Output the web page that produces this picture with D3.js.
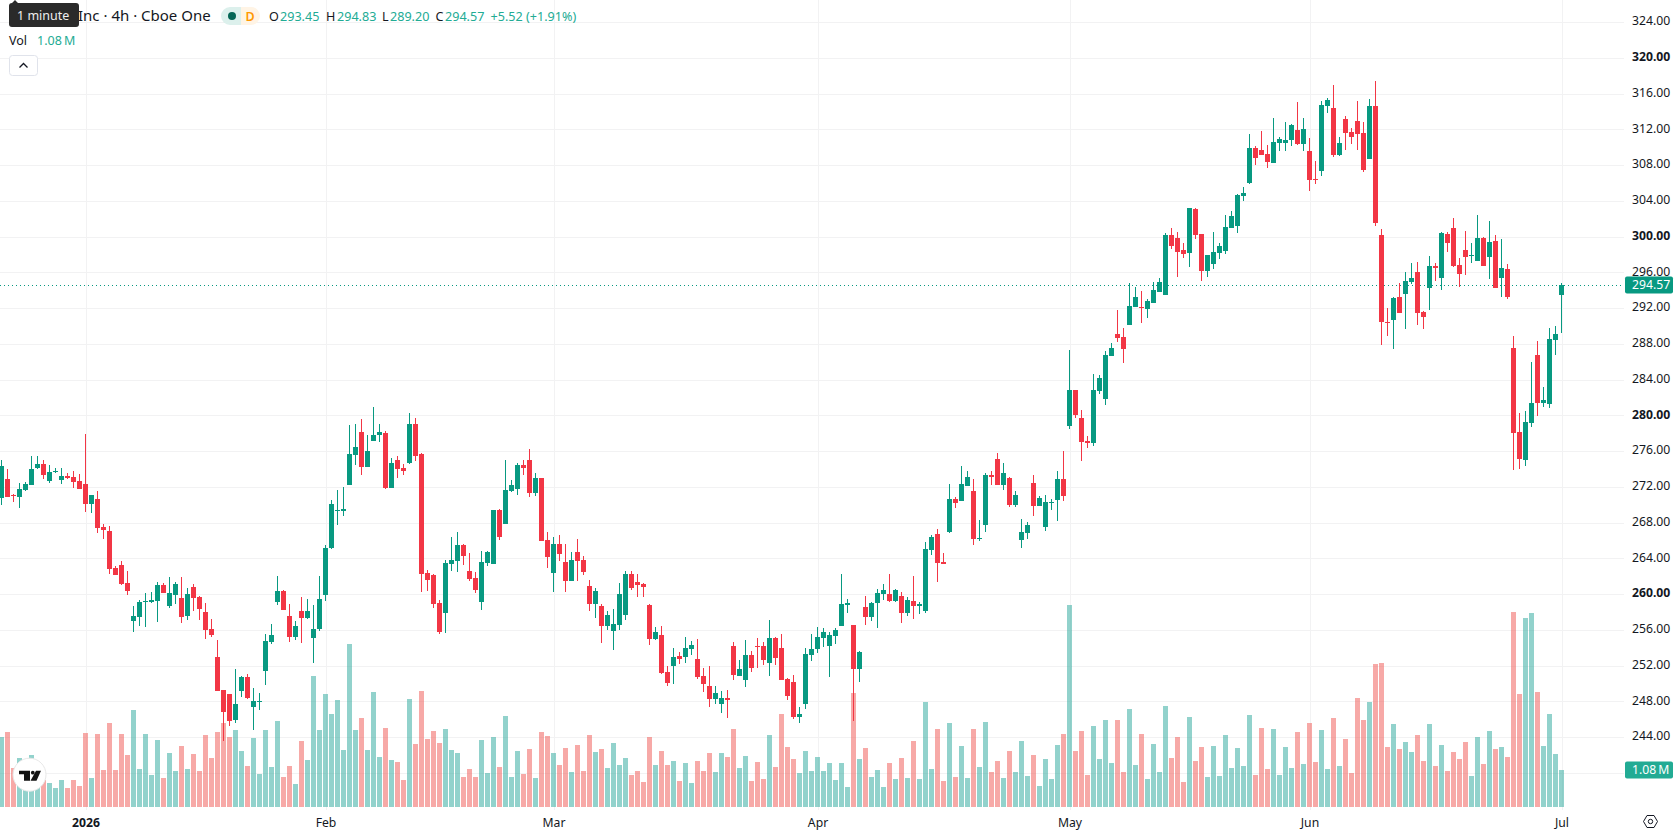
<!DOCTYPE html>
<html>
<head>
<meta charset="utf-8">
<title>4h candlestick chart</title>
<script src="https://cdn.jsdelivr.net/npm/d3@7/dist/d3.min.js"></script>
<style>
html,body{margin:0;padding:0;background:#fff;overflow:hidden}
svg{display:block}
text{font-family:"Noto Sans",sans-serif}
</style>
</head>
<body>
<svg id="chart" width="1678" height="835"></svg>
<script>
// Four-hour bars, oldest first. Prices in USD, volume in millions of shares.
const opens = [
270.78,272.87,271.04,270.89,271.64,272.24,274.10,274.55,272.65,273.65,
272.76,273.21,273.09,272.65,272.31,270.11,270.63,267.50,267.05,262.91,
263.25,261.23,257.02,257.46,259.11,259.11,259.26,261.01,258.70,259.93,
259.55,257.58,260.78,259.67,257.99,256.08,252.95,249.26,248.81,245.90,
249.18,250.71,247.36,247.95,251.42,254.63,259.14,260.34,257.54,255.23,
258.10,257.32,255.08,256.08,259.89,265.15,269.33,269.29,272.20,275.56,
278.13,274.21,277.12,277.79,278.02,271.86,275.00,274.10,274.66,279.02,
275.67,262.35,262.13,258.99,257.88,263.36,263.69,265.48,262.58,261.79,
259.11,263.47,263.36,269.40,267.83,271.53,271.75,274.44,275.00,271.30,
272.98,266.04,262.35,265.60,263.59,261.46,264.71,263.81,260.90,258.89,
258.67,256.43,255.87,256.54,257.66,262.25,261.35,261.13,258.78,254.97,
255.42,251.28,251.95,253.07,252.96,253.85,252.73,250.83,249.71,248.26,
247.70,248.37,254.19,250.83,250.38,253.18,254.19,254.19,252.29,255.08,
253.97,250.50,250.16,246.24,247.70,253.18,253.85,255.08,254.19,255.30,
256.43,258.78,256.54,251.62,258.55,257.43,259.00,260.00,260.00,259.22,
259.78,257.88,259.22,258.66,258.10,264.93,266.72,263.59,266.94,270.63,
270.41,272.09,271.53,266.16,267.73,273.32,275.11,272.20,272.99,269.96,
266.05,266.83,272.42,269.85,267.50,270.19,270.52,272.88,278.80,282.83,
279.70,277.12,276.90,282.72,281.82,286.64,289.10,288.76,290.10,292.12,
292.12,291.89,292.56,293.79,293.46,300.17,299.84,298.49,298.16,303.08,
300.28,296.14,296.92,298.16,298.38,300.96,301.18,304.54,305.99,309.91,
309.68,309.24,308.23,310.47,310.47,310.80,311.92,310.35,309.57,306.44,
307.33,314.61,314.38,309.12,313.15,311.70,312.93,311.58,308.68,314.61,
300.17,290.44,290.66,293.24,293.57,294.92,296.03,291.56,294.24,296.71,
295.36,300.29,300.96,296.82,298.50,297.82,297.27,299.84,297.71,299.50,
295.36,296.37,287.53,278.13,275.00,279.14,286.75,281.38,281.26,288.42,293.45];

const highs = [
275.00,273.99,271.23,272.42,272.53,275.44,275.44,275.00,274.44,274.10,
274.10,273.54,273.77,273.43,277.91,271.08,271.53,267.83,267.61,263.13,
263.69,262.58,258.66,259.33,260.11,260.23,261.34,261.23,261.90,261.34,
261.90,260.67,261.12,259.78,258.99,257.20,254.85,249.26,248.81,251.61,
250.83,251.05,249.48,248.92,255.53,256.64,262.02,260.45,258.88,256.98,
259.67,259.44,258.77,262.02,265.48,270.52,271.64,271.97,278.91,279.02,
279.58,277.79,280.93,279.02,278.24,275.22,275.44,274.55,280.26,279.70,
275.78,262.69,262.24,259.33,263.81,266.38,266.94,265.60,264.59,262.46,
264.81,264.81,269.40,269.51,275.00,272.76,274.66,275.00,276.23,273.54,
272.98,266.94,266.38,266.60,265.60,264.71,266.16,264.26,261.57,260.68,
258.89,258.11,258.33,261.24,262.58,262.58,262.25,261.24,258.89,256.32,
256.43,251.95,253.97,253.52,255.20,254.75,254.97,251.73,251.95,249.71,
249.15,249.27,254.64,252.62,254.86,253.63,255.08,254.64,257.10,255.20,
255.53,250.61,250.94,247.36,253.97,255.53,256.32,256.20,255.76,256.20,
262.25,259.45,256.54,253.63,259.78,259.11,260.57,261.13,262.25,260.57,
260.22,259.67,262.02,259.11,265.82,266.61,267.28,264.59,272.31,270.86,
274.33,273.77,272.88,268.29,273.55,273.77,275.78,274.66,273.10,271.53,
268.40,268.06,273.32,270.97,271.08,270.63,273.77,276.00,287.31,282.83,
280.59,277.68,284.62,284.51,287.19,288.09,291.80,289.77,294.80,294.35,
293.91,293.01,294.91,295.36,300.40,300.96,300.51,299.28,303.19,303.19,
300.28,297.93,300.51,299.28,302.41,302.86,304.76,305.54,311.47,310.13,
311.81,310.24,313.26,311.14,312.82,312.59,315.05,313.26,311.02,308.45,
315.17,315.50,316.96,311.14,313.49,312.15,315.17,312.82,315.39,317.40,
300.85,292.01,293.24,294.80,296.03,297.04,297.15,291.67,297.82,297.04,
300.51,300.51,302.08,297.60,300.62,299.28,302.41,299.95,301.74,300.17,
299.73,296.93,288.87,280.26,280.48,285.96,288.31,283.17,289.77,289.99,294.83];

const lows = [
269.96,270.89,270.33,269.66,271.53,272.24,273.99,272.87,272.42,273.54,
272.31,272.87,271.86,271.75,269.21,269.07,266.86,266.19,262.28,262.16,
261.01,259.89,255.75,256.42,256.31,258.99,256.87,260.15,258.43,258.88,
256.76,257.09,258.10,257.09,254.97,255.19,249.18,243.55,245.23,245.57,
248.48,248.25,244.78,247.02,249.82,254.41,258.77,258.25,254.63,254.85,
254.52,257.20,252.28,255.86,259.22,265.04,267.72,268.73,272.20,274.44,
273.32,274.21,277.12,277.01,271.75,271.86,272.98,273.32,274.55,274.88,
260.23,260.34,258.43,255.53,255.64,262.58,262.46,263.25,261.46,260.11,
258.21,263.13,263.36,266.04,267.83,271.42,271.08,273.32,270.86,270.97,
265.93,262.91,260.23,263.69,260.23,261.46,261.46,262.13,258.11,257.32,
254.53,255.98,253.74,255.98,257.10,260.46,259.67,259.67,254.30,254.86,
251.06,249.71,249.94,252.18,252.29,253.18,250.50,249.04,247.36,247.70,
246.69,246.13,250.38,250.83,249.60,251.28,251.73,252.06,250.83,252.06,
250.38,248.15,246.02,245.57,247.14,252.51,253.40,254.08,250.72,254.41,
256.43,257.88,245.80,250.16,256.54,256.99,256.20,259.33,259.11,259.11,
256.76,257.54,257.21,257.77,257.88,264.37,261.35,263.36,266.83,269.63,
270.41,272.09,265.49,265.94,266.94,272.20,272.20,271.64,269.74,269.74,
265.15,266.16,268.73,269.85,267.05,269.40,268.17,270.41,278.47,279.70,
274.88,276.34,276.56,282.38,281.15,286.64,288.20,285.85,290.10,292.12,
290.33,290.88,292.56,293.79,293.46,298.61,295.47,297.60,296.59,299.72,
295.02,295.47,296.36,297.49,298.05,300.96,300.40,303.97,305.88,308.00,
309.12,307.67,308.23,309.57,309.57,310.13,310.24,309.57,305.10,305.88,
306.77,313.82,308.90,309.01,309.68,310.35,309.68,307.22,308.68,301.18,
287.87,288.87,287.42,291.45,289.66,294.69,290.10,289.66,291.78,295.03,
294.02,298.27,296.59,294.36,295.70,297.04,297.27,296.71,295.25,294.24,
293.24,293.01,273.88,273.99,274.33,278.69,279.92,280.93,280.82,286.75,289.20];

const closes = [
274.32,270.89,270.93,271.75,272.31,273.99,274.55,273.35,273.65,273.77,
273.21,272.98,272.53,271.75,270.11,271.08,267.42,267.20,262.84,262.16,
261.16,260.37,257.54,259.11,259.22,259.33,261.01,260.15,260.11,261.12,
257.46,260.00,259.59,258.36,256.01,255.41,249.18,246.83,245.79,247.69,
250.71,248.40,248.03,248.03,254.74,255.41,260.34,258.25,255.23,256.42,
257.32,258.10,256.08,259.44,265.15,270.07,269.40,269.51,275.67,276.45,
274.21,276.00,277.79,278.13,271.86,274.66,273.99,273.77,279.02,275.44,
262.24,261.57,258.88,255.75,263.47,263.81,265.48,264.25,261.68,260.45,
263.58,264.70,269.40,266.38,271.64,272.20,274.44,274.10,271.30,272.98,
265.93,264.14,265.60,264.48,261.46,263.81,263.70,262.47,258.89,260.34,
256.43,257.66,256.65,260.01,262.25,260.68,261.02,260.79,254.97,255.76,
251.17,250.05,252.96,252.73,253.97,254.30,250.72,249.94,248.26,248.93,
248.37,248.15,250.94,251.62,253.18,251.73,254.08,252.62,255.08,252.85,
250.38,248.59,246.24,246.58,253.29,253.85,255.20,255.76,255.42,255.98,
258.89,259.00,251.62,253.52,257.43,259.00,260.12,260.45,259.22,260.45,
257.88,259.33,258.66,258.89,265.04,266.38,263.47,263.36,270.63,270.19,
272.31,273.10,266.16,266.27,273.32,273.10,272.20,273.55,269.96,271.08,
266.94,267.73,269.85,270.75,270.30,270.30,272.88,270.97,282.83,280.03,
277.01,276.90,282.83,284.17,286.75,287.53,288.65,287.42,292.23,293.23,
292.00,292.79,294.02,294.91,300.17,298.94,298.27,298.05,303.19,300.17,
296.14,297.93,298.27,298.94,301.07,302.30,304.65,304.87,309.91,308.79,
309.12,308.34,310.58,310.91,310.80,312.48,310.35,312.03,306.33,306.33,
314.72,315.28,309.12,310.47,311.58,311.14,311.47,307.44,314.61,301.51,
290.44,290.33,293.12,291.45,295.03,295.36,291.45,291.00,296.71,296.48,
300.40,299.28,296.71,295.81,297.71,297.94,299.84,296.71,299.39,294.24,
296.48,293.24,278.02,275.11,279.25,281.38,281.38,281.71,288.54,289.10,294.57];

const volumes = [
2.04,2.19,1.14,1.43,1.18,1.52,1.08,0.79,0.70,0.55,
0.79,0.55,0.79,0.61,2.16,0.85,2.13,1.08,2.45,1.08,
2.13,1.52,2.83,1.11,2.13,0.93,1.96,0.85,1.58,1.05,
1.78,1.11,1.55,1.05,2.10,1.43,2.19,2.45,2.04,2.25,
1.63,1.20,2.01,0.96,2.25,1.17,2.51,0.88,1.20,0.67,
1.93,1.37,3.82,2.25,3.30,2.71,3.12,1.66,4.76,2.25,
2.60,1.66,3.36,1.46,2.31,1.37,1.31,0.79,3.15,1.84,
3.39,1.98,2.22,1.87,2.28,1.66,1.58,0.88,1.11,0.88,
1.96,0.99,2.04,1.17,2.66,0.88,1.63,0.96,1.69,0.85,
2.19,2.07,1.58,1.23,1.72,1.02,1.81,1.05,2.10,1.61,
1.69,1.14,1.87,1.23,1.43,0.93,1.05,0.73,2.04,1.23,
1.63,1.23,1.34,0.76,1.28,0.70,1.34,1.05,1.58,1.02,
1.58,1.46,2.28,1.14,1.49,0.76,1.31,0.82,2.10,1.17,
2.71,1.75,1.40,0.99,1.63,1.05,1.46,1.05,1.28,0.79,
1.28,0.58,3.33,1.40,1.72,0.88,1.08,0.58,1.28,0.82,
1.43,0.85,1.93,0.82,3.06,1.11,2.28,0.76,2.45,0.88,
1.78,0.85,2.28,1.17,2.48,1.02,1.34,0.85,1.63,1.02,
1.93,0.90,1.52,0.61,1.40,0.82,1.81,2.13,5.89,1.63,
2.22,0.93,2.36,1.40,2.54,1.28,2.54,1.02,2.86,1.23,
2.13,0.82,1.84,1.02,2.95,1.43,2.04,0.73,2.63,1.34,
1.75,0.88,1.78,0.90,2.10,1.14,1.72,1.20,2.68,0.93,
2.31,1.11,2.28,0.93,1.75,1.14,2.19,1.25,2.45,1.31,
2.25,1.11,2.60,1.20,1.98,0.99,3.18,2.54,3.06,4.17,
4.20,1.75,2.42,1.69,1.90,1.61,2.10,1.34,2.42,1.20,
1.81,1.05,1.61,1.40,1.90,0.90,2.04,1.25,2.22,1.69,
1.75,1.46,5.69,3.30,5.52,5.66,3.36,1.78,2.71,1.55,1.08];

// Bar index of the first session of each period on the time axis.
const timeTickIndex = [14, 54, 92, 136, 178, 218, 260];
const timeTickLabels = ["2026", "Feb", "Mar", "Apr", "May", "Jun", "Jul"];

const priceTicks = d3.range(244, 325, 4);
const boldPriceTicks = [260, 280, 300, 320];

const lastBar = {open: 293.45, high: 294.83, low: 289.20, close: 294.57, change: 5.52, pct: 1.91, vol: 1.08};

const GREEN = "#089981", RED = "#F23645", GRID = "#f2f2f3", TEAL = "#22ab94", INK = "#131722";
const VOL_UP = "#26A69A", VOL_DOWN = "#EF5350";
const AXIS_FONT = "12.2px";
const plotRight = 1624, plotBottom = 810;

const bars = opens.map((o, i) => ({i, o, h: highs[i], l: lows[i], c: closes[i], v: volumes[i], up: closes[i] >= o}));

const x = d3.scaleLinear().domain([0, bars.length - 1]).range([1.5, 1561.5]);
const y = d3.scaleLinear().domain([280, 248]).range([415.3, 701.3]);
const yVol = d3.scaleLinear().domain([0, lastBar.vol]).range([807, 770]);

const svg = d3.select("#chart");

// Gridlines come from the same scales that carry the labels.
const gridH = svg.append("g")
  .call(d3.axisLeft(y).tickValues(d3.range(240, 325, 4)).tickSize(-plotRight).tickFormat(""));
gridH.select(".domain").remove();
gridH.selectAll("line").attr("stroke", GRID).attr("shape-rendering", "crispEdges");

const gridV = svg.append("g").attr("transform", `translate(0,${plotBottom})`)
  .call(d3.axisBottom(x).tickValues(timeTickIndex).tickSize(-plotBottom).tickFormat(""));
gridV.select(".domain").remove();
gridV.selectAll("line").attr("stroke", GRID).attr("shape-rendering", "crispEdges");

// Volume sits under the candles at half opacity.
svg.append("g").attr("shape-rendering", "crispEdges").selectAll("rect").data(bars).join("rect")
  .attr("x", d => x(d.i) - 2.5)
  .attr("width", 5)
  .attr("y", d => Math.round(yVol(d.v)))
  .attr("height", d => yVol(0) - Math.round(yVol(d.v)))
  .attr("fill", d => d.up ? VOL_UP : VOL_DOWN)
  .attr("fill-opacity", 0.5);

// Last-price line.
svg.append("line")
  .attr("x1", 0).attr("x2", plotRight)
  .attr("y1", Math.round(y(lastBar.close)) + 0.5).attr("y2", Math.round(y(lastBar.close)) + 0.5)
  .attr("stroke", GREEN).attr("stroke-width", 1).attr("stroke-dasharray", "1 3");

// Candles: wick first, then the body over it.
const candle = svg.append("g").attr("shape-rendering", "crispEdges").selectAll("g").data(bars).join("g")
  .attr("fill", d => d.up ? GREEN : RED);
candle.append("rect")
  .attr("x", d => x(d.i) - 0.5).attr("width", 1)
  .attr("y", d => Math.round(y(d.h)))
  .attr("height", d => Math.max(1, Math.round(y(d.l)) - Math.round(y(d.h))));
candle.append("rect")
  .attr("x", d => x(d.i) - 2.5).attr("width", 5)
  .attr("y", d => Math.round(y(Math.max(d.o, d.c))))
  .attr("height", d => Math.max(1, Math.round(y(Math.min(d.o, d.c))) - Math.round(y(Math.max(d.o, d.c)))));

// Price scale.
const priceAxis = svg.append("g").attr("transform", `translate(${plotRight},0)`)
  .call(d3.axisRight(y).tickValues(priceTicks).tickSize(0).tickPadding(8).tickFormat(d3.format(".2f")));
priceAxis.select(".domain").remove();
priceAxis.selectAll("text")
  .attr("fill", INK)
  .attr("dy", "0.24em")
  .style("font-family", '"Noto Sans",sans-serif')
  .style("font-size", AXIS_FONT)
  .style("font-weight", d => boldPriceTicks.includes(d) ? 700 : 400);

// Time scale.
const timeAxis = svg.append("g").attr("transform", "translate(0,807)")
  .call(d3.axisBottom(x).tickValues(timeTickIndex).tickSize(0).tickPadding(11)
    .tickFormat((d, i) => timeTickLabels[i]));
timeAxis.select(".domain").remove();
timeAxis.selectAll("text")
  .attr("fill", INK)
  .style("font-family", '"Noto Sans",sans-serif')
  .style("font-size", AXIS_FONT)
  .style("font-weight", d => d === 14 ? 700 : 400);

// Value tags on the price scale.
function tag(cy, fill, label) {
  svg.append("rect").attr("x", 1625).attr("y", cy - 8.5).attr("width", 48).attr("height", 17)
    .attr("rx", 2).attr("fill", fill);
  svg.append("text").attr("x", 1632).attr("y", cy + 4).attr("fill", "#fff")
    .style("font-size", AXIS_FONT).text(label);
}
tag(y(lastBar.close), GREEN, d3.format(".2f")(lastBar.close));
tag(yVol(lastBar.vol), TEAL, lastBar.vol.toFixed(2) + "\u2009M");

// Legend row.
const legendY = 21;
svg.append("text").attr("x", 78).attr("y", legendY).attr("fill", INK)
  .style("font-size", "15px").text("Inc \u00b7 4h \u00b7 Cboe One");

svg.append("path").attr("fill", "#dcf0ec")
  .attr("d", "M241 7h-11a9 9 0 0 0 0 18h11z");
svg.append("path").attr("fill", "#fff4e5")
  .attr("d", "M241 7h10a9 9 0 0 1 0 18h-10z");
svg.append("circle").attr("cx", 232).attr("cy", 16).attr("r", 4).attr("fill", "#056656");
svg.append("text").attr("x", 250).attr("y", 21).attr("text-anchor", "middle").attr("fill", "#ff9800")
  .style("font-size", "12.5px").style("font-weight", 600).text("D");

const fmt = d3.format(".2f");
const legendItems = [
  {x: 269, t: "O", c: INK}, {x: 280, t: fmt(lastBar.open), c: TEAL},
  {x: 326, t: "H", c: INK}, {x: 337, t: fmt(lastBar.high), c: TEAL},
  {x: 382, t: "L", c: INK}, {x: 390, t: fmt(lastBar.low), c: TEAL},
  {x: 435.5, t: "C", c: INK}, {x: 445, t: fmt(lastBar.close), c: TEAL},
  {x: 490.5, t: `+${fmt(lastBar.change)} (+${fmt(lastBar.pct)}%)`, c: TEAL}
];
svg.append("g").selectAll("text").data(legendItems).join("text")
  .attr("x", d => d.x).attr("y", legendY).attr("fill", d => d.c)
  .style("font-size", "12.6px").text(d => d.t);

// Volume legend and collapse button.
svg.append("text").attr("x", 9).attr("y", 45).attr("fill", INK).style("font-size", "12.5px").text("Vol");
svg.append("text").attr("x", 37).attr("y", 45).attr("fill", TEAL).style("font-size", "12.5px")
  .text(lastBar.vol.toFixed(2) + "\u2009M");
svg.append("rect").attr("x", 9.5).attr("y", 55.5).attr("width", 28).attr("height", 20).attr("rx", 3)
  .attr("fill", "#fff").attr("stroke", "#e0e3eb");
svg.append("path").attr("d", "M19.5 67.5l4-4 4 4").attr("fill", "none").attr("stroke", INK).attr("stroke-width", 1.3);

// Tooltip over the start of the legend.
svg.append("path").attr("fill", "#2a2a2a")
  .attr("d", "M12 3l3-3 3 3h58a3 3 0 0 1 3 3v18a3 3 0 0 1-3 3h-64a3 3 0 0 1-3-3v-18a3 3 0 0 1 3-3z");
svg.append("text").attr("x", 17).attr("y", 20).attr("fill", "#eee").style("font-size", "12.5px").text("1 minute");

// Logo badge.
svg.append("circle").attr("cx", 29.5).attr("cy", 774.7).attr("r", 16.5)
  .attr("fill", "#fff").attr("stroke", "#e8e8e8").attr("stroke-width", 1);
svg.append("path").attr("fill", "#131313")
  .attr("d", "M19 770.7h11v10h-6v-6.500h-5z M36 770.7h5l-4.500 10h-6z");
svg.append("circle").attr("cx", 32.800).attr("cy", 772.700).attr("r", 1.900).attr("fill", "#131313");

// Scale settings icon.
svg.append("path").attr("fill", "none").attr("stroke", INK).attr("stroke-width", 1)
  .attr("d", "M1647 815.500h7l3.500 6-3.500 6h-7l-3.500-6z");
svg.append("circle").attr("cx", 1650.500).attr("cy", 821.500).attr("r", 2.200)
  .attr("fill", "none").attr("stroke", INK);
</script>
</body>
</html>
